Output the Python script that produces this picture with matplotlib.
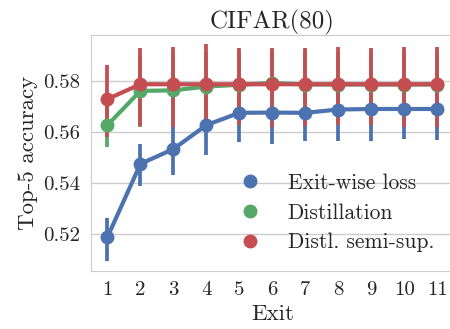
import numpy as np
import matplotlib
matplotlib.use("Agg")
import matplotlib.pyplot as plt
from matplotlib.lines import Line2D

plt.rcParams["font.family"] = "serif"
plt.rcParams["font.serif"] = ["cmr10"]
plt.rcParams["mathtext.fontset"] = "cm"
plt.rcParams["axes.formatter.use_mathtext"] = True

exits = ["1", "2", "3", "4", "5", "6", "7", "8", "9", "10", "11"]

# Exit-wise loss
blue = [0.5188, 0.5475, 0.5533, 0.5627, 0.5675, 0.5676, 0.5675, 0.5688, 0.5690, 0.5690, 0.5690]
blue_lo = [0.5094, 0.5388, 0.5431, 0.5510, 0.5560, 0.5553, 0.5566, 0.5566, 0.5566, 0.5571, 0.5568]
blue_hi = [0.5264, 0.5553, 0.5620, 0.5740, 0.5790, 0.5795, 0.5785, 0.5810, 0.5810, 0.5810, 0.5810]

# Distillation
green = [0.5627, 0.5761, 0.5763, 0.5778, 0.5785, 0.5792, 0.5786, 0.5786, 0.5786, 0.5786, 0.5786]
green_lo = [0.5542, 0.5620, 0.5620, 0.5635, 0.5630, 0.5630, 0.5630, 0.5630, 0.5630, 0.5630, 0.5630]
green_hi = [0.5712, 0.5900, 0.5905, 0.5915, 0.5915, 0.5915, 0.5915, 0.5915, 0.5915, 0.5915, 0.5915]

# Distl. semi-sup.
red = [0.5729, 0.5787, 0.5787, 0.5787, 0.5787, 0.5787, 0.5787, 0.5787, 0.5787, 0.5787, 0.5787]
red_lo = [0.5582, 0.5624, 0.5621, 0.5635, 0.5627, 0.5620, 0.5622, 0.5627, 0.5627, 0.5618, 0.5618]
red_hi = [0.5863, 0.5928, 0.5932, 0.5944, 0.5928, 0.5928, 0.5930, 0.5934, 0.5930, 0.5934, 0.5934]

labels = ["Exit-wise loss", "Distillation", "Distl. semi-sup."]
colors = ["#4C72B0", "#55A868", "#C44E52"]

fig = plt.figure(figsize=(4.5, 3.29), dpi=100)
ax = fig.add_axes([0.2022, 0.1763, 0.806, 0.7173])

x = np.arange(len(exits))
series = [(blue, blue_lo, blue_hi), (green, green_lo, green_hi), (red, red_lo, red_hi)]
for (m, lo, hi), c in zip(series, colors):
    ax.vlines(x, lo, hi, color=c, lw=2.7, zorder=2)
    ax.plot(x, m, color=c, lw=3.0, marker="o", ms=9, zorder=3)

ax.set_xticks(x)
ax.set_xticklabels(exits)
ax.set_xlim(-0.5, len(exits) - 0.5)
ax.set_ylim(0.5055, 0.598)
ax.set_yticks([0.52, 0.54, 0.56, 0.58])
ax.set_yticklabels(["0.52", "0.54", "0.56", "0.58"])

ax.yaxis.grid(True, color="#cccccc", lw=1)
ax.set_axisbelow(True)
for s in ax.spines.values():
    s.set_color("#cccccc")
ax.tick_params(length=0, labelsize=15, colors="#262626", pad=7.5)

ax.set_xlabel("Exit", fontsize=16.5, color="#262626", labelpad=4)
ax.set_ylabel("Top-5 accuracy", fontsize=16.5, color="#262626", labelpad=4)
ax.set_title("CIFAR(80)", fontsize=18, color="#262626", pad=5)

handles = [Line2D([], [], color=c, marker="o", ls="none", ms=9) for c in colors]
ax.legend(handles, labels, loc="upper left", bbox_to_anchor=(0.37, 0.45), frameon=False,
          fontsize=15.5, labelcolor="#262626", handlelength=1.5, handletextpad=1.0,
          labelspacing=0.47, borderaxespad=0)

fig.savefig("out.png", dpi=100)
